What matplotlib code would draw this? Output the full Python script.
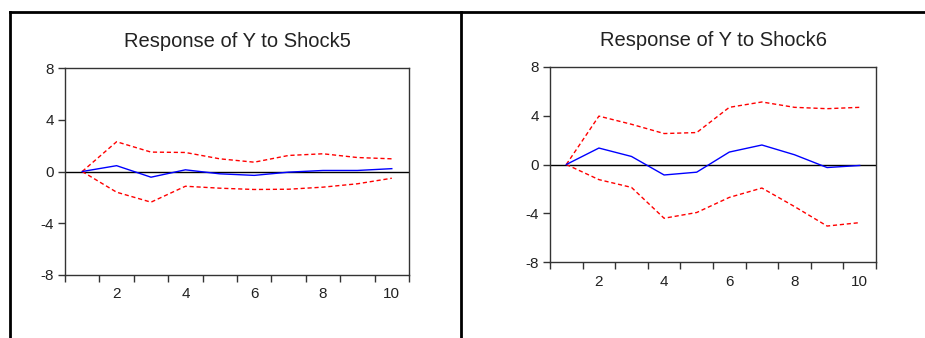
import matplotlib
matplotlib.use('Agg')
import matplotlib.pyplot as plt
from matplotlib.lines import Line2D
import numpy as np

plt.rcParams['font.family'] = ['Liberation Sans', 'DejaVu Sans']
plt.rcParams['axes.unicode_minus'] = False

# Data
periods = [1, 2, 3, 4, 5, 6, 7, 8, 9, 10]

shock5_resp = [0.0, 0.45, -0.44, 0.13, -0.18, -0.30, -0.05, 0.08, 0.08, 0.22]
shock5_up   = [0.0, 2.30, 1.50, 1.47, 0.98, 0.72, 1.24, 1.37, 1.08, 0.98]
shock5_lo   = [0.0, -1.60, -2.37, -1.14, -1.29, -1.39, -1.37, -1.21, -0.95, -0.52]

shock6_resp = [0.0, 1.35, 0.66, -0.86, -0.63, 1.02, 1.60, 0.80, -0.25, -0.08]
shock6_up   = [0.0, 3.97, 3.30, 2.54, 2.62, 4.69, 5.13, 4.69, 4.58, 4.69]
shock6_lo   = [0.0, -1.24, -1.88, -4.41, -3.94, -2.70, -1.93, -3.45, -5.05, -4.77]

titles = ['Response of Y to Shock5', 'Response of Y to Shock6']
yticks = [-8, -4, 0, 4, 8]
xlabels = [2, 4, 6, 8, 10]

fig = plt.figure(figsize=(9.25, 3.38), dpi=100, facecolor='white')

ax1 = fig.add_axes([65/925, 1 - 275/338, 344/925, 207/338])
ax2 = fig.add_axes([550/925, 1 - 262/338, 326/925, 195/338])

panels = [
    (ax1, shock5_resp, shock5_up, shock5_lo, titles[0], 15),
    (ax2, shock6_resp, shock6_up, shock6_lo, titles[1], 15),
]

for ax, resp, up, lo, title, tpad in panels:
    ax.axhline(0, color='black', lw=1.0, zorder=1)
    ax.plot(periods, up, color='red', lw=1.0, ls=(0, (3, 2)), zorder=2)
    ax.plot(periods, lo, color='red', lw=1.0, ls=(0, (3, 2)), zorder=2)
    ax.plot(periods, resp, color='blue', lw=1.0, zorder=3)

    ax.set_xlim(0.5, 10.5)
    ax.set_ylim(-8, 8)
    ax.set_yticks(yticks)
    ax.set_yticklabels([str(v) for v in yticks])

    # tick marks between periods, labels on even periods
    ax.set_xticks(np.arange(0.5, 11, 1.0))
    ax.set_xticklabels([])
    ax.set_xticks(xlabels, minor=True)
    ax.set_xticklabels([str(v) for v in xlabels], minor=True)
    ax.tick_params(axis='x', which='major', direction='out', length=5,
                   width=1, color='#333333')
    ax.tick_params(axis='x', which='minor', length=0, pad=9,
                   labelsize=11, labelcolor='#222222')
    ax.tick_params(axis='y', direction='out', length=5, width=1,
                   color='#333333', labelsize=11, labelcolor='#222222', pad=3)

    for s in ax.spines.values():
        s.set_color('#333333')
        s.set_linewidth(1.0)

    ax.set_title(title, fontsize=14.5, color='#222222', pad=tpad)

# Outer frame lines
ytop = 1 - 12/338
fig.add_artist(Line2D([10/925, 1], [ytop, ytop], color='black', lw=2,
                      transform=fig.transFigure))
fig.add_artist(Line2D([10/925, 10/925], [0, ytop], color='black', lw=2,
                      transform=fig.transFigure))
fig.add_artist(Line2D([461/925, 461/925], [0, ytop], color='black', lw=2,
                      transform=fig.transFigure))

fig.savefig('out.png', dpi=100, facecolor='white')
